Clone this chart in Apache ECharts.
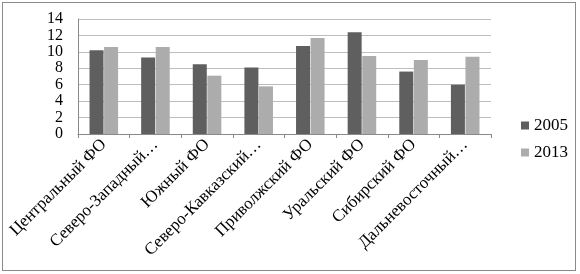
<!DOCTYPE html>
<html>
<head>
<meta charset="utf-8">
<script src="https://cdn.jsdelivr.net/npm/echarts@6/dist/echarts.min.js"></script>
<style>
  html, body { margin: 0; padding: 0; background: #fff; }
  #frame { position: absolute; left: 2px; top: 2px; width: 572px; height: 267px; border: 1px solid #8a8a8a; }
  #chart { position: absolute; left: 0; top: 0; width: 580px; height: 274px; }
</style>
</head>
<body>
<div id="frame"></div>
<div id="chart"></div>
<script>
const categories = ['Центральный ФО', 'Северо-Западный…', 'Южный ФО', 'Северо-Кавказский…', 'Приволжский ФО', 'Уральский ФО', 'Сибирский ФО', 'Дальневосточный…'];
const values2005 = [10.2, 9.3, 8.5, 8.1, 10.7, 12.4, 7.6, 6.0];
const values2013 = [10.6, 10.6, 7.1, 5.8, 11.7, 9.5, 9.0, 9.4];
const yTicks = [0, 2, 4, 6, 8, 10, 12, 14];

const font = 'Liberation Serif';
const chart = echarts.init(document.getElementById('chart'));

chart.setOption({
  animation: false,
  textStyle: { fontFamily: font },
  grid: { left: 78, right: 89, top: 19, bottom: 140 },
  legend: {
    orient: 'vertical',
    left: 516,
    top: 112,
    itemWidth: 8,
    itemHeight: 8,
    itemGap: 10,
    icon: 'rect',
    textStyle: { fontFamily: font, fontSize: 17, color: '#000' },
    data: ['2005', '2013']
  },
  xAxis: {
    type: 'category',
    data: categories,
    axisLine: { lineStyle: { color: '#8a8a8a' } },
    axisTick: { show: true, length: 4, lineStyle: { color: '#8a8a8a' } },
    axisLabel: { rotate: 45, fontSize: 17, color: '#000', fontFamily: font, margin: 8, interval: 0 }
  },
  yAxis: {
    type: 'value',
    min: yTicks[0],
    max: yTicks[yTicks.length - 1],
    interval: 2,
    axisLine: { show: true, lineStyle: { color: '#8a8a8a' } },
    axisTick: { show: false },
    splitLine: { lineStyle: { color: '#bdbdbd' } },
    axisLabel: {
      fontSize: 16, color: '#000', fontFamily: font, margin: 15,
      showMinLabel: true, showMaxLabel: true, lineHeight: 12
    }
  },
  series: [
    {
      name: '2005',
      type: 'bar',
      data: values2005,
      barWidth: 14,
      barGap: '4%',
      itemStyle: { color: '#5f5f5f' }
    },
    {
      name: '2013',
      type: 'bar',
      data: values2013,
      barWidth: 14,
      itemStyle: { color: '#acacac' }
    }
  ]
});
</script>
</body>
</html>
